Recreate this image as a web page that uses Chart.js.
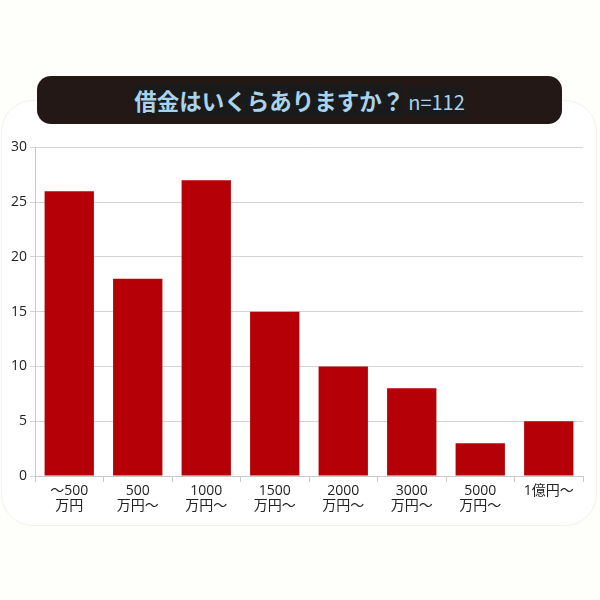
<!DOCTYPE html>
<html>
<head>
<meta charset="utf-8">
<script src="https://cdn.jsdelivr.net/npm/chart.js@4"></script>
<style>
  html, body { margin: 0; padding: 0; }
  body { width: 600px; height: 600px; background: #fefefa; position: relative; overflow: hidden;
         font-family: "Noto Sans CJK JP", "Noto Sans", sans-serif; }
  #card { position: absolute; left: 1px; top: 100px; width: 594px; height: 424px;
          background: #ffffff; border: 1px solid #f3f1e8; border-radius: 32px; }
  #banner { position: absolute; left: 37px; top: 76px; width: 525px; height: 48px;
            background: #231815; border-radius: 14px; text-align: center; line-height: 48px;
            color: #a9d3ec; white-space: nowrap; }
  #banner span { background: #1b1a1a; }
  #banner .q { font-size: 22.5px; font-weight: bold; }
  #banner .n { font-size: 20px; margin-left: 4px; }
  #wrap { position: absolute; left: 0; top: 136px; width: 600px; height: 385px; }
</style>
</head>
<body>
<div id="card"></div>
<div id="banner"><span class="q">借金はいくらありますか？</span><span class="n">n=112</span></div>
<div id="wrap"><canvas id="canvas"></canvas></div>
<script>
// カテゴリ（2行ラベル）
const categories = [
    ["～500", "万円"],
    ["500", "万円～"],
    ["1000", "万円～"],
    ["1500", "万円～"],
    ["2000", "万円～"],
    ["3000", "万円～"],
    ["5000", "万円～"],
    "1億円～"
];
const counts = [26, 18, 27, 15, 10, 8, 3, 5];
const yTicks = [0, 5, 10, 15, 20, 25, 30];

const fontFamily = '"Open Sans", "Noto Sans CJK JP", sans-serif';

const config = {
    type: 'bar',
    data: {
        labels: categories,
        datasets: [{
            data: counts,
            backgroundColor: '#b40006',
            barPercentage: 0.72,
            categoryPercentage: 1.0
        }]
    },
    options: {
        responsive: true,
        maintainAspectRatio: false,
        animation: false,
        layout: { padding: { left: 0, right: 17, top: 0, bottom: 0 } },
        plugins: {
            legend: { display: false },
            tooltip: { enabled: false }
        },
        scales: {
            x: {
                grid: { display: true, drawOnChartArea: false, color: '#c8c8c8', tickLength: 6, offset: true },
                border: { color: '#c8c8c8' },
                ticks: { color: '#222', font: { family: fontFamily, size: 14, lineHeight: 1.1 }, maxRotation: 0, autoSkip: false, padding: 1 },
                afterFit: function(scale) { scale.height = 45; }
            },
            y: {
                min: 0,
                max: 30,
                afterBuildTicks: function(scale) { scale.ticks = yTicks.map(v => ({ value: v })); },
                grid: { color: '#d4d4d4', tickLength: 5 },
                border: { color: '#c8c8c8' },
                ticks: { color: '#222', font: { family: fontFamily, size: 14 }, padding: 3 },
                afterFit: function(scale) { scale.width = 35; }
            }
        }
    }
};

new Chart(document.getElementById("canvas"), config);
</script>
</body>
</html>
